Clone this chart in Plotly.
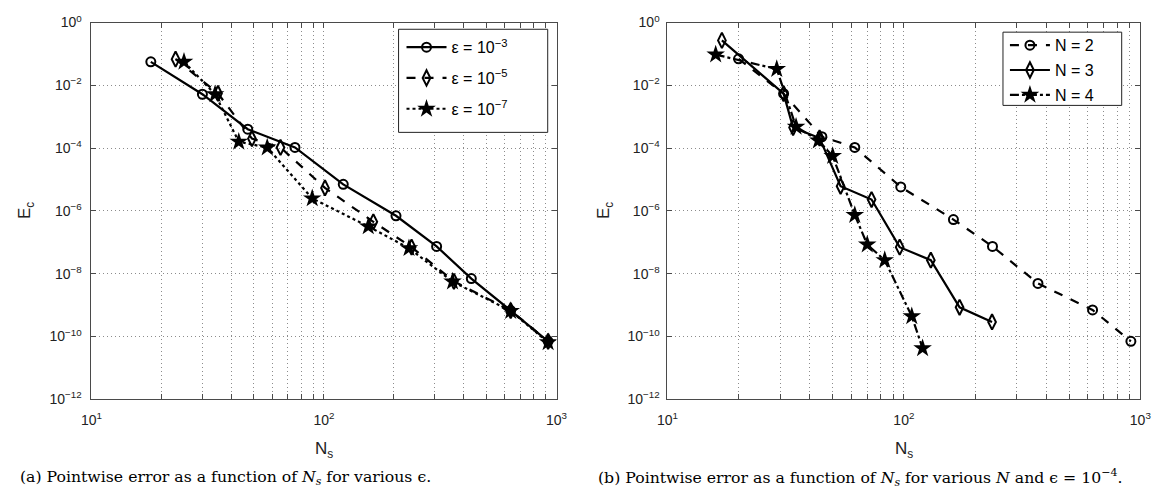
import plotly.graph_objects as go

# ---- panel (a): pointwise error vs N_s for several epsilon ----
ns_eps3 = [18, 30, 47, 75, 121, 204, 305, 430, 635, 920]
ec_eps3 = [5.6e-2, 5.2e-3, 4.0e-4, 1.05e-4, 7.0e-6, 7.0e-7, 7.4e-8, 7.0e-9, 6.7e-10, 7.0e-11]
ns_eps5 = [23, 35, 49, 65, 101, 163, 238, 362, 635, 920]
ec_eps5 = [6.8e-2, 5.5e-3, 2.0e-4, 1.05e-4, 5.4e-6, 4.5e-7, 7.0e-8, 5.7e-9, 6.7e-10, 7.0e-11]
ns_eps7 = [25, 34, 43, 57, 89, 155, 232, 357, 635, 920]
ec_eps7 = [5.6e-2, 5.2e-3, 1.6e-4, 1.04e-4, 2.5e-6, 3.2e-7, 6.5e-8, 5.6e-9, 6.5e-10, 6.5e-11]

# ---- panel (b): pointwise error vs N_s for several N ----
ns_n2 = [20, 31, 45, 62, 97, 162, 237, 369, 628, 912]
ec_n2 = [7.0e-2, 5.4e-3, 2.3e-4, 1.05e-4, 5.8e-6, 5.3e-7, 7.4e-8, 4.9e-9, 7.0e-10, 7.0e-11]
ns_n3 = [17, 31, 34, 44, 54, 73, 96, 130, 172, 236]
ec_n3 = [2.7e-1, 5.4e-3, 4.5e-4, 2.1e-4, 6.1e-6, 2.3e-6, 7.0e-8, 2.7e-8, 8.5e-10, 2.9e-10]
ns_n4 = [16, 29, 35, 43.5, 50, 62, 70, 83, 108, 120]
ec_n4 = [9.5e-2, 3.3e-2, 4.8e-4, 1.75e-4, 5.6e-5, 7.4e-7, 8.5e-8, 2.7e-8, 4.4e-10, 4.2e-11]

# ---- tick definitions ----
x_tickvals = [10, 100, 1000]
x_ticktext = ["10<sup>1</sup>", "10<sup>2</sup>", "10<sup>3</sup>"]
x_minorvals = [m * d for d in (10, 100) for m in range(2, 10)]
y_exponents = [0, -2, -4, -6, -8, -10, -12]
y_tickvals = [10.0 ** e for e in y_exponents]
y_ticktext = ["10<sup>%s</sup>" % str(e).replace("-", "\u2212") for e in y_exponents]

W, H = 1169, 494
AX_COLOR = "#4a4a4a"
GRID_COLOR = "#8c8c8c"
SANS = "Liberation Sans, Arial, sans-serif"
SERIF = "DejaVu Serif, serif"


def px_x(p):
    return p / W


def px_y(p):
    return 1 - p / H


def axis_base():
    return dict(
        type="log", showline=True, linecolor=AX_COLOR, linewidth=1, mirror="ticks",
        ticks="inside", ticklen=5, tickcolor=AX_COLOR, tickwidth=1,
        showgrid=True, gridcolor=GRID_COLOR, griddash="1px,3px", gridwidth=1,
        zeroline=False, tickfont=dict(family=SANS, size=14, color="#222"),
    )


def x_axis(domain, anchor):
    ax = axis_base()
    ax.update(
        domain=domain, range=[1, 3], tickvals=x_tickvals, ticktext=x_ticktext,
        anchor=anchor, ticklabelstandoff=8,
        minor=dict(tickvals=x_minorvals, ticks="inside", ticklen=5, tickcolor=AX_COLOR,
                   tickwidth=1, showgrid=True, gridcolor=GRID_COLOR,
                   griddash="1px,3px", gridwidth=1),
    )
    return ax


def y_axis(anchor, standoff):
    ax = axis_base()
    ax.update(domain=[px_y(404), px_y(13)], range=[-12, 0], tickvals=y_tickvals,
              ticktext=y_ticktext, anchor=anchor, ticklabelstandoff=standoff)
    return ax


fig = go.Figure()

line_w = 2.2


def add(xs, ys, name, dash, symbol, size, filled, xa, ya, legend):
    fig.add_trace(go.Scatter(
        x=xs, y=ys, name=name, mode="lines+markers", xaxis=xa, yaxis=ya,
        legend=legend, legendgroup=name,
        line=dict(color="black", width=line_w, dash=dash),
        marker=dict(symbol=symbol, size=size, color="black",
                    line=dict(color="black", width=2 if not filled else 0)),
    ))


add(ns_eps3, ec_eps3, "\u03b5 = 10<sup>\u22123</sup>", "solid", "circle-open", 9, False, "x", "y", "legend")
add(ns_eps5, ec_eps5, "\u03b5 = 10<sup>\u22125</sup>", "dash", "diamond-tall-open", 11, False, "x", "y", "legend")
add(ns_eps7, ec_eps7, "\u03b5 = 10<sup>\u22127</sup>", "dot", "star", 14, True, "x", "y", "legend")

add(ns_n2, ec_n2, "N = 2", "dash", "circle-open", 9, False, "x2", "y2", "legend2")
add(ns_n3, ec_n3, "N = 3", "solid", "diamond-tall-open", 11, False, "x2", "y2", "legend2")
add(ns_n4, ec_n4, "N = 4", "dashdot", "star", 14, True, "x2", "y2", "legend2")

xa1 = x_axis([px_x(82), px_x(556)], "y")
xa2 = x_axis([px_x(669), px_x(1151)], "y2")
ya1 = y_axis("x", 6)
ya2 = y_axis("x2", 4)

# legends: entries drawn by plotly, frames drawn as shapes
legend_common = dict(
    bgcolor="rgba(0,0,0,0)", borderwidth=0,
    font=dict(family=SANS, size=16, color="black"),
    itemwidth=40, xanchor="left", yanchor="top",
)
leg1 = dict(legend_common)
leg1.update(x=px_x(398), y=px_y(21), tracegroupgap=7)
leg2 = dict(legend_common)
leg2.update(x=px_x(1013), y=px_y(19), tracegroupgap=1)

shapes = []
for x0, x1, y0, y1 in ((395, 547, 20, 127), (1011, 1132, 23, 99)):
    shapes.append(dict(type="rect", xref="paper", yref="paper",
                       x0=px_x(x0), x1=px_x(x1), y0=px_y(y1), y1=px_y(y0),
                       line=dict(color="#222", width=1), fillcolor="white", layer="above"))

annotations = []
axis_title_font = dict(family=SANS, size=17, color="#222")
for cx, ey in ((319, 16), (910, 606)):
    annotations.append(dict(text="N<sub>s</sub>", x=px_x(cx), y=px_y(457), xref="paper",
                            yref="paper", showarrow=False, font=axis_title_font,
                            xanchor="center", yanchor="middle"))
    annotations.append(dict(text="E<sub>c</sub>", x=px_x(ey), y=px_y(208), xref="paper",
                            yref="paper", showarrow=False, font=axis_title_font, textangle=-90,
                            xanchor="center", yanchor="middle"))

caption_font = dict(family=SERIF, size=15.7, color="black")
annotations.append(dict(
    text="(a) Pointwise error as a function of <i>N<sub>s</sub></i> for various \u03f5.",
    x=px_x(7), y=px_y(485), xref="paper", yref="paper", showarrow=False,
    font=caption_font, xanchor="left", yanchor="middle"))
annotations.append(dict(
    text="(b) Pointwise error as a function of <i>N<sub>s</sub></i> for various <i>N</i> and \u03f5 = 10<sup>\u22124</sup>.",
    x=px_x(596), y=px_y(485), xref="paper", yref="paper", showarrow=False,
    font=caption_font, xanchor="left", yanchor="middle"))

fig.update_layout(
    width=W, height=H, autosize=False,
    margin=dict(l=0, r=0, t=0, b=0),
    paper_bgcolor="white", plot_bgcolor="white",
    xaxis=xa1, yaxis=ya1, xaxis2=xa2, yaxis2=ya2,
    legend=leg1, legend2=leg2,
    shapes=shapes,
    annotations=annotations,
    showlegend=True,
)

fig.write_html("out.html")
